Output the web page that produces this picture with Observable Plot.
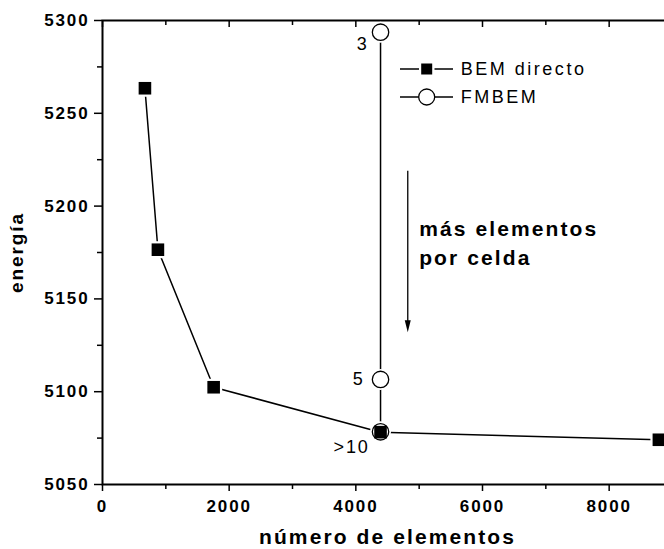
<!DOCTYPE html>
<html><head><meta charset="utf-8">
<script src="https://cdn.jsdelivr.net/npm/d3@7"></script>
<script src="https://cdn.jsdelivr.net/npm/@observablehq/plot@0.6"></script>
<style>
html,body{margin:0;padding:0;background:#fff;overflow:hidden;}
#wrap{position:relative;width:664px;height:549px;overflow:hidden;}
#wrap svg{max-width:none !important;}
#wrap text{letter-spacing:0.1em;}
#wrap g[aria-label="x-axis tick label"] text, #wrap g[aria-label="y-axis tick label"] text{letter-spacing:0.11em;}
#legend text{letter-spacing:0.14em;}
#legend{position:absolute;left:396px;top:55px;}
</style></head><body><div id="wrap"></div>
<script>
// BEM directo (número de elementos, energía)
const bemN = [670, 875, 1755, 4390, 8785];
const bemE = [5263.5, 5176.5, 5102.4, 5078.2, 5074.1];
// FMBEM (same mesh, different elements per cell)
const fmN = [4390, 4390, 4390];
const fmE = [5293.7, 5106.6, 5078.4];
const fmLabels = ["3", "5", ">10"];
// axes
const xTicks = [0, 2000, 4000, 6000, 8000];
const xMinor = [1000, 3000, 5000, 7000, 9000];
const yTicks = [5050, 5100, 5150, 5200, 5250, 5300];
const yMinor = [5075, 5125, 5175, 5225, 5275];
const xTitle = "número de elementos";
const yTitle = "energía";
const seriesNames = ["BEM directo", "FMBEM"];
// annotation
const arrowX = [4820];
const arrowY = [5219, 5132];
const noteText = ["más elementos\npor celda"];
const noteX = [5000];
const noteY = [5181];

const bem = bemN.map((n, i) => ({n, e: bemE[i]}));
const fm = fmN.map((n, i) => ({n, e: fmE[i], label: fmLabels[i]}));
const font = "'Liberation Sans', Arial, Helvetica, sans-serif";

const head = {draw(ctx) { ctx.moveTo(-3, -12); ctx.lineTo(3, -12); ctx.lineTo(0, 0); ctx.closePath(); }};

const chart = Plot.plot({
  width: 672, height: 549,
  marginLeft: 102, marginRight: 0, marginTop: 20, marginBottom: 65,
  style: {fontFamily: font, background: "white", maxWidth: "none"},
  x: {domain: [0, 9000]},
  y: {domain: [5050, 5300]},
  marks: [
    Plot.axisX({ticks: xTicks, tickSize: 7, tickPadding: 8, tickFormat: d => String(d), fontSize: 17, fontWeight: "bold", label: null, strokeWidth: 1.5}),
    Plot.axisX({ticks: xMinor, tickSize: 5, tickFormat: () => "", label: null, strokeWidth: 1.5}),
    Plot.axisX({anchor: "top", ticks: xTicks, tickSize: 6, dy: 6, tickFormat: () => "", label: null, strokeWidth: 1.5}),
    Plot.axisX({anchor: "top", ticks: xMinor, tickSize: 4, dy: 4, tickFormat: () => "", label: null, strokeWidth: 1.5}),
    Plot.axisY({ticks: yTicks, tickSize: 8, tickPadding: 5, tickFormat: d => String(d), fontSize: 17, fontWeight: "bold", label: null, strokeWidth: 1.5}),
    Plot.axisY({ticks: yMinor, tickSize: 5, tickFormat: () => "", label: null, strokeWidth: 1.5}),
    Plot.axisY({anchor: "right", ticks: yTicks, tickSize: 7, dx: -7, tickFormat: () => "", label: null, strokeWidth: 1.5}),
    Plot.axisY({anchor: "right", ticks: yMinor, tickSize: 4, dx: -4, tickFormat: () => "", label: null, strokeWidth: 1.5}),
    Plot.frame({stroke: "black", strokeWidth: 2}),
    Plot.text([xTitle], {text: d => d, frameAnchor: "bottom", textAnchor: "middle", dy: 59, fontSize: 21, fontWeight: "bold"}),
    Plot.text([yTitle], {text: d => d, frameAnchor: "left", textAnchor: "middle", rotate: -90, dx: -86, fontSize: 19, fontWeight: "bold"}),
    Plot.line(bem, {x: "n", y: "e", stroke: "black", strokeWidth: 1.5}),
    Plot.line(fm, {x: "n", y: "e", stroke: "black", strokeWidth: 1.5}),
    Plot.dot(bem, {x: "n", y: "e", symbol: "square", r: 9.6, fill: "white"}),
    Plot.dot(fm, {x: "n", y: "e", symbol: "circle", r: 10.5, fill: "white"}),
    Plot.dot(fm, {x: "n", y: "e", symbol: "circle", r: 8.2, fill: "white", stroke: "black", strokeWidth: 1.3}),
    Plot.dot(bem, {x: "n", y: "e", symbol: "square", r: 7.1, fill: "black"}),
    Plot.text(fm, {filter: d => d.label === "3", x: "n", y: "e", text: "label", textAnchor: "end", dx: -12, dy: 12, fontSize: 18}),
    Plot.text(fm, {filter: d => d.label === "5", x: "n", y: "e", text: "label", textAnchor: "end", dx: -16, dy: 0, fontSize: 18}),
    Plot.text(fm, {filter: d => d.label === ">10", x: "n", y: "e", text: "label", textAnchor: "end", dx: -11, dy: 15, fontSize: 18}),
    Plot.link(arrowX, {x1: d => d, x2: d => d, y1: arrowY[0], y2: arrowY[1] + 4, stroke: "black", strokeWidth: 1.3}),
    Plot.dot(arrowX, {x: d => d, y: arrowY[1], symbol: head, r: 4, fill: "black", stroke: "none"}),
    Plot.text(noteText, {x: noteX[0], y: noteY[0], text: d => d, textAnchor: "start", lineHeight: 1.4, fontSize: 21, fontWeight: "bold"})
  ]
});
const wrap = document.getElementById("wrap");
wrap.appendChild(chart);

// legend
const lg = d3.create("svg").attr("id", "legend").attr("width", 220).attr("height", 60)
  .style("font-family", font).style("overflow", "visible");
const rows = [14, 42];
seriesNames.forEach((name, i) => {
  const g = lg.append("g").attr("transform", `translate(0,${rows[i]})`);
  if (i === 0) {
    g.append("line").attr("x1", 4).attr("x2", 23).attr("stroke", "black").attr("stroke-width", 1.5);
    g.append("line").attr("x1", 38.5).attr("x2", 57).attr("stroke", "black").attr("stroke-width", 1.5);
    g.append("rect").attr("x", 25.2).attr("y", -5.5).attr("width", 11).attr("height", 11).attr("fill", "black");
  } else {
    g.append("line").attr("x1", 4).attr("x2", 57).attr("stroke", "black").attr("stroke-width", 1.5);
    g.append("circle").attr("cx", 30.7).attr("cy", 0).attr("r", 8).attr("fill", "white").attr("stroke", "black").attr("stroke-width", 1.3);
  }
  g.append("text").attr("x", 64.7).attr("dy", "0.35em").attr("font-size", 18).text(name);
});
wrap.appendChild(lg.node());
</script></body></html>
